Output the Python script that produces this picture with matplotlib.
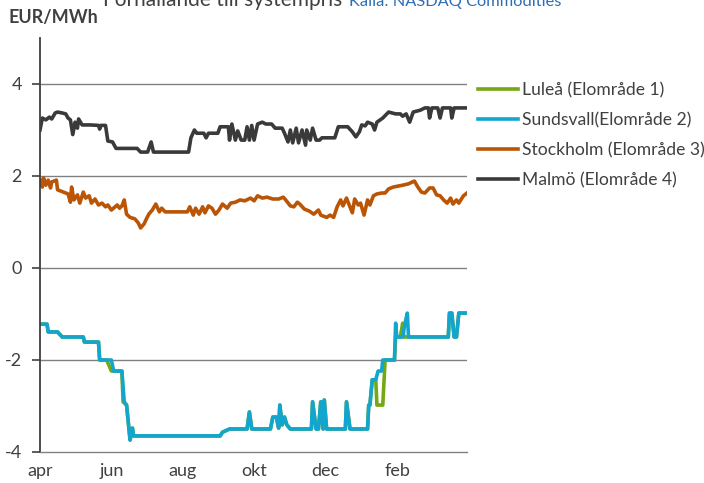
import numpy as np
import pandas as pd
import matplotlib
matplotlib.use('Agg')
import matplotlib.pyplot as plt

plt.rcParams['font.family'] = ['Lato', 'DejaVu Sans']

START = pd.Timestamp('2011-04-01')

# Day offsets from 1 april and price difference vs system price (EUR/MWh)
malmo_days = [0, 2, 5, 8, 10, 13, 15, 19, 22, 24, 26, 28, 30, 32, 33, 36, 43, 50, 51, 52,
              56, 58, 62, 65, 83, 86, 92, 95, 97, 127, 129, 132, 134, 140, 142, 144, 152, 154,
              161, 162, 164, 167, 169, 172, 175, 177, 179, 181, 183, 186, 190, 193, 198, 201,
              207, 209, 212, 214, 216, 219, 221, 224, 227, 228, 231, 233, 236, 239, 241, 252,
              255, 263, 267, 270, 273, 275, 278, 280, 284, 286, 288, 293, 298, 304, 308, 310,
              313, 316, 319, 325, 329, 332, 333, 335, 340, 342, 344, 351, 352, 354, 365]
malmo_vals = [3.0, 3.26, 3.22, 3.28, 3.24, 3.37, 3.39, 3.37, 3.35, 3.26, 3.22, 2.9, 3.17, 3.04,
              3.24, 3.11, 3.11, 3.1, 3.02, 3.1, 3.1, 2.76, 2.74, 2.6, 2.6, 2.52, 2.52, 2.74, 2.52,
              2.52, 2.83, 3.0, 2.93, 2.93, 2.83, 2.93, 2.93, 3.07, 3.07, 2.78, 3.13, 2.78, 2.98,
              2.78, 2.78, 3.07, 2.78, 3.1, 2.78, 3.13, 3.17, 3.13, 3.13, 3.04, 3.04, 2.93, 2.74,
              3.0, 2.72, 3.04, 2.72, 3.0, 2.67, 3.0, 2.78, 3.04, 2.78, 2.78, 2.83, 2.83, 3.07,
              3.07, 2.96, 2.85, 2.96, 3.11, 3.09, 3.17, 3.13, 3.0, 3.17, 3.26, 3.39, 3.35, 3.35,
              3.3, 3.35, 3.17, 3.39, 3.43, 3.48, 3.48, 3.26, 3.48, 3.48, 3.26, 3.48, 3.48, 3.26,
              3.48, 3.48]

sthlm_days = [0, 2, 3, 5, 7, 9, 10, 14, 15, 20, 24, 26, 27, 29, 32, 34, 37, 39, 42, 44, 47,
              50, 53, 56, 58, 61, 66, 68, 70, 72, 74, 77, 81, 84, 86, 89, 91, 93, 96, 99, 102,
              104, 107, 126, 128, 131, 133, 136, 139, 141, 144, 147, 150, 153, 156, 160, 163,
              167, 171, 175, 180, 183, 186, 190, 194, 199, 204, 208, 210, 214, 217, 220, 222,
              226, 230, 234, 238, 240, 245, 248, 251, 254, 257, 259, 262, 264, 267, 269, 272,
              274, 277, 280, 282, 285, 288, 292, 295, 298, 302, 306, 310, 315, 320, 323, 326,
              329, 333, 336, 339, 342, 345, 348, 351, 353, 356, 358, 362, 365]
sthlm_vals = [1.91, 1.76, 1.96, 1.8, 1.91, 1.74, 1.87, 1.91, 1.7, 1.65, 1.61, 1.43, 1.76, 1.48,
              1.59, 1.41, 1.65, 1.52, 1.57, 1.41, 1.5, 1.37, 1.41, 1.33, 1.37, 1.26, 1.37, 1.3,
              1.35, 1.48, 1.17, 1.1, 1.07, 0.98, 0.87, 0.96, 1.07, 1.17, 1.26, 1.39, 1.22, 1.3,
              1.22, 1.22, 1.33, 1.15, 1.3, 1.17, 1.33, 1.2, 1.35, 1.3, 1.17, 1.26, 1.39, 1.3,
              1.41, 1.43, 1.48, 1.46, 1.52, 1.46, 1.57, 1.52, 1.54, 1.5, 1.5, 1.54, 1.48, 1.35,
              1.33, 1.43, 1.39, 1.28, 1.24, 1.17, 1.26, 1.15, 1.1, 1.15, 1.1, 1.33, 1.48, 1.35,
              1.52, 1.39, 1.2, 1.5, 1.37, 1.41, 1.15, 1.48, 1.37, 1.57, 1.61, 1.63, 1.63, 1.72,
              1.76, 1.78, 1.8, 1.83, 1.89, 1.76, 1.65, 1.63, 1.74, 1.74, 1.59, 1.57, 1.48, 1.41,
              1.52, 1.39, 1.48, 1.41, 1.57, 1.63]

sundsvall_days = [0, 6, 7, 15, 19, 37, 38, 50, 51, 61, 63, 70, 72, 74, 77, 79, 80, 154, 156,
                  162, 177, 179, 181, 197, 199, 202, 204, 205, 207, 209, 211, 214, 232, 233,
                  236, 238, 240, 242, 243, 245, 261, 262, 265, 280, 281, 282, 284, 287, 289,
                  292, 293, 303, 304, 305, 310, 312, 314, 315, 349, 350, 352, 354, 356, 358,
                  365]
sundsvall_vals = [-1.22, -1.22, -1.39, -1.39, -1.5, -1.5, -1.61, -1.61, -2.0, -2.0, -2.24,
                  -2.24, -2.91, -2.98, -3.74, -3.48, -3.65, -3.65, -3.57, -3.5, -3.5, -3.13,
                  -3.5, -3.5, -3.24, -3.24, -3.48, -2.98, -3.41, -3.24, -3.41, -3.5, -3.5,
                  -2.91, -3.5, -3.5, -2.91, -3.5, -2.87, -3.5, -3.5, -2.91, -3.5, -3.5, -2.98,
                  -2.98, -2.43, -2.43, -2.24, -2.24, -2.0, -2.0, -1.2, -1.5, -1.5, -1.2, -0.98,
                  -1.5, -1.5, -0.98, -0.98, -1.5, -1.5, -0.98, -0.98]

lulea_days = [0, 6, 7, 15, 19, 37, 38, 50, 51, 57, 61, 70, 71, 74, 77, 79, 80, 154, 156,
              162, 177, 179, 181, 197, 199, 202, 204, 205, 207, 209, 211, 214, 232, 233,
              236, 238, 240, 242, 243, 245, 261, 262, 265, 280, 281, 282, 284, 287, 288,
              293, 295, 303, 304, 308, 310, 311, 349, 350, 352, 354, 356, 358, 365]
lulea_vals = [-1.22, -1.22, -1.39, -1.39, -1.5, -1.5, -1.61, -1.61, -2.0, -2.0, -2.24, -2.24,
              -2.91, -2.98, -3.74, -3.48, -3.65, -3.65, -3.57, -3.5, -3.5, -3.13, -3.5, -3.5,
              -3.24, -3.24, -3.48, -2.98, -3.41, -3.24, -3.41, -3.5, -3.5, -2.91, -3.5, -3.5,
              -2.91, -3.5, -2.87, -3.5, -3.5, -2.91, -3.5, -3.5, -2.98, -2.98, -2.43, -2.43,
              -2.98, -2.98, -2.0, -2.0, -1.5, -1.5, -1.2, -1.5, -1.5, -0.98, -0.98, -1.5,
              -1.5, -0.98, -0.98]

series = [
    ('Luleå (Elområde 1)', lulea_days, lulea_vals, '#76a813'),
    ('Sundsvall(Elområde 2)', sundsvall_days, sundsvall_vals, '#12a6cf'),
    ('Stockholm (Elområde 3)', sthlm_days, sthlm_vals, '#bb5506'),
    ('Malmö (Elområde 4)', malmo_days, malmo_vals, '#3a3a3a'),
]

month_ticks = ['2011-04-01', '2011-06-01', '2011-08-01', '2011-10-01', '2011-12-01', '2012-02-01']
month_labels = ['apr', 'jun', 'aug', 'okt', 'dec', 'feb']

TXT = '#404040'

fig = plt.figure(figsize=(7.04, 4.83), dpi=100)
ax = fig.add_axes([40 / 704, 31 / 483, 427 / 704, 414 / 483])

for label, days, vals, col in series:
    x = START + pd.to_timedelta(days, unit='D')
    ax.plot(x, vals, color=col, lw=2.6, label=label, solid_joinstyle='round')

ax.set_ylim(-4, 5)
ax.set_xlim(START, START + pd.Timedelta(days=365))
ax.set_yticks([-4, -2, 0, 2, 4])
ax.set_yticklabels(['-4', '-2', '0', '2', '4'])
for yv in [-2, 0, 2, 4]:
    ax.axhline(yv, color='#808080', lw=1.0, zorder=0)

ax.set_xticks(pd.to_datetime(month_ticks))
ax.set_xticklabels(month_labels)
ax.tick_params(axis='x', length=0, pad=8, labelsize=13, labelcolor=TXT)
ax.tick_params(axis='y', length=6, width=1.2, color=TXT, pad=7, labelsize=13,
               labelcolor=TXT)

for s in ['top', 'right']:
    ax.spines[s].set_visible(False)
ax.spines['left'].set_color(TXT)
ax.spines['left'].set_linewidth(1.3)
ax.spines['bottom'].set_color('#808080')
ax.spines['bottom'].set_linewidth(1.0)

ax.legend(loc='upper left', bbox_to_anchor=(478 / 704, 1 - 82 / 483),
          bbox_transform=fig.transFigure, frameon=False, fontsize=12.6,
          handlelength=2.3, handletextpad=0.2, labelspacing=0.8,
          labelcolor=TXT, borderaxespad=0, borderpad=0)

fig.text(8 / 704, 1 - 17 / 483, 'EUR/MWh', fontsize=13, fontweight='bold', color=TXT,
         va='center', ha='left')
# heading sits partly above the canvas edge
fig.text(103 / 704, 1 - 6 / 483, 'Förhållande till systempris', fontsize=15, color=TXT,
         va='baseline', ha='left')
fig.text(349 / 704, 1 - 6 / 483, 'Källa: NASDAQ Commodities', fontsize=11.8, color='#2e6db4',
         va='baseline', ha='left')

fig.savefig('out.png', dpi=100)
